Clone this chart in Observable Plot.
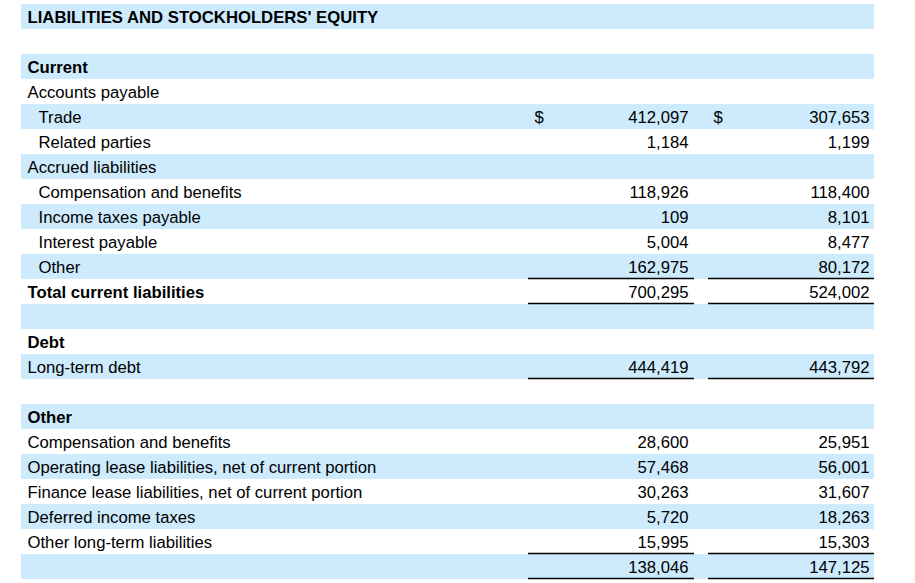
<!DOCTYPE html>
<html>
<head>
<meta charset="utf-8">
<script src="https://cdn.jsdelivr.net/npm/d3@7"></script>
<script src="https://cdn.jsdelivr.net/npm/@observablehq/plot@0.6"></script>
<style>
  html, body { margin: 0; padding: 0; background: #fff; }
  #chart svg { display: block; }
</style>
</head>
<body>
<div id="chart"></div>
<script>
// ---- Data ----
const labels = [
  "LIABILITIES AND STOCKHOLDERS' EQUITY", "",
  "Current", "Accounts payable", "Trade", "Related parties",
  "Accrued liabilities", "Compensation and benefits", "Income taxes payable",
  "Interest payable", "Other", "Total current liabilities", "",
  "Debt", "Long-term debt", "",
  "Other", "Compensation and benefits",
  "Operating lease liabilities, net of current portion",
  "Finance lease liabilities, net of current portion",
  "Deferred income taxes", "Other long-term liabilities", ""
];
const indentLevel = [0,0, 0,0,1,1, 0,1,1, 1,1,0,0, 0,0,0, 0,0,0,0, 0,0,0];
const isBold      = [1,0, 1,0,0,0, 0,0,0, 0,0,1,0, 1,0,0, 1,0,0,0, 0,0,0];
const currentYear = [null,null, null,null,412097,1184, null,118926,109, 5004,162975,700295,null,
                     null,444419,null, null,28600,57468,30263, 5720,15995,138046];
const priorYear   = [null,null, null,null,307653,1199, null,118400,8101, 8477,80172,524002,null,
                     null,443792,null, null,25951,56001,31607, 18263,15303,147125];
const dollarRows  = [4];
const underlineRows = [10, 11, 14, 21, 22];

const rows = labels.map((label, i) => ({
  i, label, indent: indentLevel[i], bold: !!isBold[i],
  cur: currentYear[i], prior: priorYear[i]
}));

// ---- Layout ----
const W = 915, H = 583;
const bandX1 = 21, bandX2 = 874;
const labelX = [27, 38];
const col1Right = 688, col2Right = 869;
const dollar1 = 534, dollar2 = 713;
const rule1 = [528, 694], rule2 = [708, 874];
const fmt = d3.format(",");
const fontFamily = "Liberation Sans, Arial, sans-serif";
const fs = 16.7;

const shaded = rows.filter(d => d.i % 2 === 0);
const valued = rows.filter(d => d.cur != null);
const underlined = rows.filter(d => underlineRows.includes(d.i));
const dollars = rows.filter(d => dollarRows.includes(d.i));

const plot = Plot.plot({
  width: W, height: H,
  margin: 0,
  style: { fontFamily, background: "#fff" },
  x: { type: "linear", domain: [0, W], range: [0, W], axis: null },
  y: { type: "linear", domain: [0, 23], range: [4, 579], axis: null },
  marks: [
    Plot.rect(shaded, { x1: bandX1, x2: bandX2, y1: d => d.i, y2: d => d.i + 1, fill: "#cdebfc" }),
    Plot.text(rows.filter(d => d.label && d.bold), {
      x: d => labelX[d.indent], y: d => d.i + 0.5, dy: 1, text: "label", textAnchor: "start",
      fontSize: fs, fontWeight: "bold", fill: "#000"
    }),
    Plot.text(rows.filter(d => d.label && !d.bold), {
      x: d => labelX[d.indent], y: d => d.i + 0.5, dy: 1, text: "label", textAnchor: "start",
      fontSize: fs, fill: "#000"
    }),
    Plot.text(dollars, {
      x: dollar1, y: d => d.i + 0.5, dy: 1, text: () => "$", textAnchor: "start", fontSize: fs, fill: "#000"
    }),
    Plot.text(dollars, {
      x: dollar2, y: d => d.i + 0.5, dy: 1, text: () => "$", textAnchor: "start", fontSize: fs, fill: "#000"
    }),
    Plot.text(valued, {
      x: col1Right, y: d => d.i + 0.5, dy: 1, text: d => fmt(d.cur), textAnchor: "end", fontSize: fs, fill: "#000"
    }),
    Plot.text(valued, {
      x: col2Right, y: d => d.i + 0.5, dy: 1, text: d => fmt(d.prior), textAnchor: "end", fontSize: fs, fill: "#000"
    }),
    Plot.ruleY(underlined, { x1: rule1[0], x2: rule1[1], y: d => d.i + 1, dy: -1, stroke: "#000", strokeWidth: 1.6 }),
    Plot.ruleY(underlined, { x1: rule2[0], x2: rule2[1], y: d => d.i + 1, dy: -1, stroke: "#000", strokeWidth: 1.6 })
  ]
});
document.getElementById("chart").appendChild(plot);
</script>
</body>
</html>
